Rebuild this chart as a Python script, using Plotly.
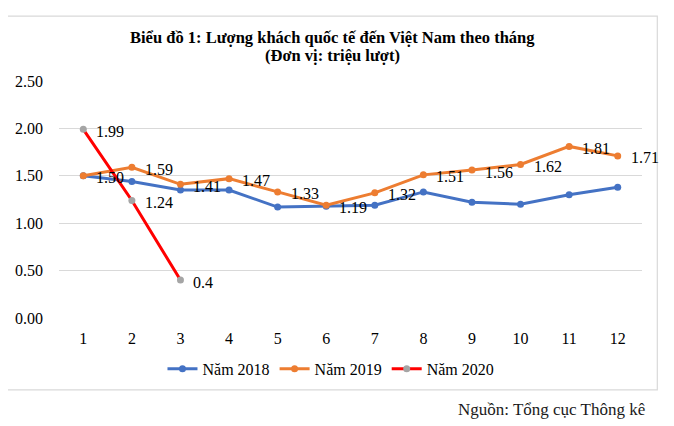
import plotly.graph_objects as go

months = [1, 2, 3, 4, 5, 6, 7, 8, 9, 10, 11, 12]
y2018 = [1.50, 1.44, 1.35, 1.35, 1.17, 1.18, 1.19, 1.33, 1.22, 1.20, 1.30, 1.38]
y2019 = [1.50, 1.59, 1.41, 1.47, 1.33, 1.19, 1.32, 1.51, 1.56, 1.62, 1.81, 1.71]
months2020 = [1, 2, 3]
y2020 = [1.99, 1.24, 0.4]
labels2019 = ["1.50", "1.59", "1.41", "1.47", "1.33", "1.19", "1.32", "1.51", "1.56", "1.62", "1.81", "1.71"]
labels2020 = ["1.99", "1.24", "0.4"]
xticklabels = ["1", "2", "3", "4", "5", "6", "7", "8", "9", "10", "11", "12"]
yticks = [0, 0.5, 1.0, 1.5, 2.0, 2.5]
yticklabels = ["0.00", "0.50", "1.00", "1.50", "2.00", "2.50"]
title_lines = ["Biểu đồ 1: Lượng khách quốc tế đến Việt Nam theo tháng", "(Đơn vị: triệu lượt)"]
source_text = "Nguồn: Tổng cục Thông kê"

FONT = "Liberation Serif, Times New Roman, serif"

# page has an 8px body margin; figure sized to fit inside window
OFF = 8
W, H = 674 - OFF, 426 - OFF
PL, PR, PT, PB = 59.3, 641.7, 80.7, 318.0  # plot area in window pixels


def xp(px):
    return (px - PL) / (PR - PL)


def yp(py):
    return (PB - py) / (PB - PT)


fig = go.Figure()
fig.add_trace(go.Scatter(
    x=months, y=y2018, mode="lines+markers", name="Năm 2018",
    line=dict(color="#4472C4", width=3), marker=dict(color="#4472C4", size=7),
))
fig.add_trace(go.Scatter(
    x=months, y=y2019, mode="lines+markers", name="Năm 2019",
    line=dict(color="#ED7D31", width=3), marker=dict(color="#ED7D31", size=7),
))
fig.add_trace(go.Scatter(
    x=months2020, y=y2020, mode="lines+markers", name="Năm 2020",
    line=dict(color="#FF0000", width=3), marker=dict(color="#A5A5A5", size=7),
))

# data labels (to the right of the points)
for xs, ys, labs in [(months, y2019, labels2019), (months2020, y2020, labels2020)]:
    for xv, yv, lab in zip(xs, ys, labs):
        fig.add_annotation(x=xv, y=yv, xref="x", yref="y", text=lab, showarrow=False,
                           xanchor="left", yanchor="middle", xshift=11, yshift=-2,
                           font=dict(family=FONT, size=16, color="#000000"))

fig.update_layout(
    width=W, height=H,
    margin=dict(l=PL - OFF, r=674 - PR, t=PT - OFF, b=426 - PB, autoexpand=False),
    paper_bgcolor="white", plot_bgcolor="white",
    font=dict(family=FONT, size=16, color="#000000"),
    xaxis=dict(
        range=[0.5, 12.5], tickvals=months, ticktext=xticklabels,
        showgrid=False, zeroline=False, showline=False, automargin=False,
        ticks="outside", ticklen=6, tickcolor="rgba(0,0,0,0)",
        tickfont=dict(family=FONT, size=16, color="#000000"),
    ),
    yaxis=dict(
        range=[0, 2.5], tickvals=yticks, ticktext=yticklabels,
        showgrid=True, gridcolor="#D9D9D9", gridwidth=1.3, zeroline=False,
        showline=False, ticklabelstandoff=15, automargin=False,
        tickfont=dict(family=FONT, size=16, color="#000000"),
    ),
    legend=dict(
        orientation="h", x=xp(331), xanchor="center", y=yp(369), yanchor="middle",
        font=dict(family=FONT, size=16, color="#000000"), bgcolor="rgba(0,0,0,0)",
    ),
    showlegend=True,
)

# title (two lines)
for line, cy in zip(title_lines, [37, 55]):
    fig.add_annotation(text="<b>" + line + "</b>", xref="paper", yref="paper",
                       x=xp(333), y=yp(cy), xanchor="center", yanchor="middle",
                       showarrow=False, font=dict(family=FONT, size=16.5, color="#000000"))

fig.add_shape(type="rect", xref="paper", yref="paper",
              x0=xp(7.3), x1=xp(657), y0=yp(390), y1=yp(15.7),
              line=dict(color="#D9D9D9", width=1.2), fillcolor="rgba(0,0,0,0)", layer="below")

fig.add_annotation(text=source_text, xref="paper", yref="paper",
                   x=xp(647), y=yp(410), xanchor="right", yanchor="middle",
                   showarrow=False, font=dict(family=FONT, size=17, color="#1a1a1a"))

fig.write_html("out.html")
